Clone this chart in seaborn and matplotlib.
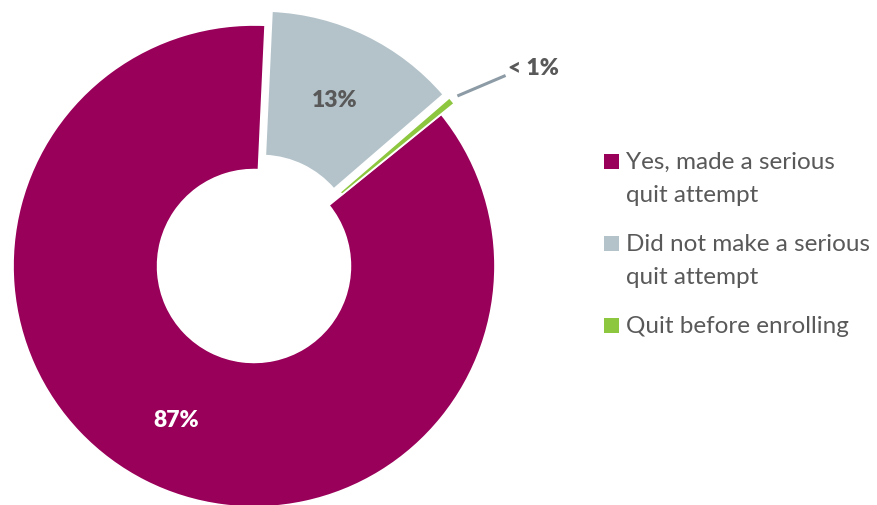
import numpy as np
import matplotlib
matplotlib.use("Agg")
import matplotlib.pyplot as plt
from matplotlib.patches import Rectangle
import seaborn as sns

sns.set_theme(style="white")
plt.rcParams['font.family'] = ['Lato', 'DejaVu Sans']

# Survey responses: did the participant make a serious quit attempt?
categories = ["Yes, made a serious\nquit attempt",
              "Did not make a serious\nquit attempt",
              "Quit before enrolling"]
shares = [87, 13, 0.5]
share_labels = ["87%", "13%", "< 1%"]
colors = ["#990059", "#B4C3CA", "#8DC63F"]

W, H = 877, 505
R_PX = 241            # donut outer radius in pixels
CX, CY = 254, 266     # donut centre in pixels (from top-left)
TEXT = "#595959"

fig = plt.figure(figsize=(W / 100, H / 100), dpi=100)
ax = fig.add_axes([0, 0, 1, 1])

wedges, _ = ax.pie(
    shares, colors=colors, startangle=39, counterclock=False,
    explode=[0, 0.065, 0.07], radius=1,
    wedgeprops=dict(width=0.6, edgecolor="white", linewidth=1.2),
)
ax.set_xlim(-CX / R_PX, (W - CX) / R_PX)
ax.set_ylim(-(H - CY) / R_PX, CY / R_PX)
ax.set_aspect("auto")
ax.axis("off")

# Percent labels inside the two large segments
for w, lab, col, dist in zip(wedges[:2], share_labels[:2], ["white", TEXT], [0.72, 0.70]):
    mid = np.deg2rad((w.theta1 + w.theta2) / 2)
    x = w.center[0] + dist * np.cos(mid)
    y = w.center[1] + dist * np.sin(mid)
    ax.text(x, y, lab, ha="center", va="center", color=col,
            fontsize=16.5, fontweight="heavy")

# Small segment gets a leader line and an outside label
w = wedges[2]
mid = np.deg2rad((w.theta1 + w.theta2) / 2)
ax_x = w.center[0] + 1.03 * np.cos(mid)
ax_y = w.center[1] + 1.03 * np.sin(mid)
bx, by = ax_x + 0.2, ax_y + 0.085
ax.plot([ax_x, bx], [ax_y, by], color="#8C9BA5", lw=2.2, solid_capstyle="butt")
ax.text(bx + 0.01, by, share_labels[2], ha="left", va="baseline",
        color=TEXT, fontsize=16.5, fontweight="heavy")

# Legend: square swatch next to the first line of each entry
sq = 15
line_step = 33
entry_gap = 16
y_base = 169
for cat, col in zip(categories, colors):
    lines = cat.split("\n")
    fig.patches.append(Rectangle((604 / W, (H - y_base + 0.5) / H), sq / W, sq / H,
                                 transform=fig.transFigure, color=col, lw=0))
    for j, line in enumerate(lines):
        fig.text(626 / W, (H - y_base - j * line_step) / H, line, ha="left",
                 va="baseline", color=TEXT, fontsize=17.5)
    y_base += len(lines) * line_step + entry_gap

fig.savefig("out.png", dpi=100)
